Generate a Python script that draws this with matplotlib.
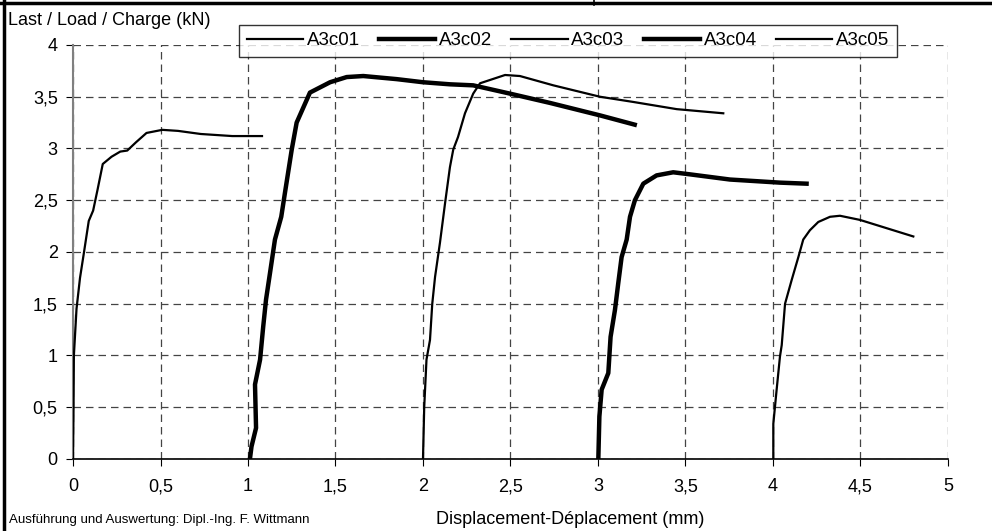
import matplotlib
matplotlib.use("Agg")
import matplotlib.pyplot as plt
from matplotlib.lines import Line2D

plt.rcParams['font.family'] = ['Liberation Sans', 'DejaVu Sans']

# load-displacement curves
x_a3c01 = [0.0, 0.003, 0.005, 0.02, 0.04, 0.063, 0.09, 0.115, 0.14, 0.17, 0.22,
           0.27, 0.31, 0.36, 0.42, 0.51, 0.6, 0.73, 0.91, 1.08]
y_a3c01 = [0.0, 0.5, 1.0, 1.45, 1.75, 2.0, 2.3, 2.4, 2.6, 2.85, 2.92,
           2.97, 2.98, 3.06, 3.15, 3.18, 3.17, 3.14, 3.12, 3.12]

x_a3c02 = [1.011, 1.02, 1.046, 1.04, 1.069, 1.087, 1.103, 1.126, 1.154, 1.19,
           1.211, 1.25, 1.278, 1.354, 1.469, 1.564, 1.659, 1.85, 2.0, 2.154,
           2.287, 2.497, 2.726, 3.011, 3.21]
y_a3c02 = [0.0, 0.12, 0.3, 0.72, 0.96, 1.28, 1.54, 1.8, 2.12, 2.34,
           2.57, 2.99, 3.25, 3.54, 3.64, 3.69, 3.7, 3.67, 3.64, 3.62,
           3.61, 3.53, 3.44, 3.32, 3.23]

x_a3c03 = [2.0, 2.007, 2.02, 2.04, 2.053, 2.069, 2.097, 2.126, 2.154, 2.173,
           2.2, 2.24, 2.287, 2.326, 2.469, 2.554, 2.745, 3.011, 3.2, 3.45, 3.716]
y_a3c03 = [0.0, 0.5, 0.96, 1.15, 1.5, 1.76, 2.09, 2.47, 2.82, 2.99,
           3.11, 3.34, 3.53, 3.63, 3.71, 3.7, 3.61, 3.5, 3.45, 3.38, 3.34]

x_a3c04 = [3.002, 3.008, 3.021, 3.059, 3.072, 3.097, 3.116, 3.135, 3.164, 3.183,
           3.211, 3.259, 3.335, 3.43, 3.526, 3.754, 4.04, 4.192]
y_a3c04 = [0.0, 0.41, 0.67, 0.83, 1.18, 1.44, 1.7, 1.95, 2.12, 2.34,
           2.5, 2.66, 2.74, 2.77, 2.75, 2.7, 2.67, 2.66]

x_a3c05 = [4.002, 4.002, 4.021, 4.04, 4.05, 4.069, 4.107, 4.145, 4.173, 4.211,
           4.259, 4.326, 4.383, 4.497, 4.802]
y_a3c05 = [0.0, 0.34, 0.67, 0.99, 1.1, 1.5, 1.73, 1.95, 2.12, 2.21,
           2.29, 2.34, 2.35, 2.31, 2.15]

labels = ['A3c01', 'A3c02', 'A3c03', 'A3c04', 'A3c05']
x_ticks = [0, 0.5, 1, 1.5, 2, 2.5, 3, 3.5, 4, 4.5, 5]
x_ticklabels = ['0', '0,5', '1', '1,5', '2', '2,5', '3', '3,5', '4', '4,5', '5']
y_ticks = [0, 0.5, 1, 1.5, 2, 2.5, 3, 3.5, 4]
y_ticklabels = ['0', '0,5', '1', '1,5', '2', '2,5', '3', '3,5', '4']

fig = plt.figure(figsize=(9.92, 5.31), dpi=100)
ax = fig.add_axes([0.0736, 0.1356, 0.882, 0.7797])

series = [(x_a3c01, y_a3c01, 1.6), (x_a3c02, y_a3c02, 3.2), (x_a3c03, y_a3c03, 1.6),
          (x_a3c04, y_a3c04, 3.2), (x_a3c05, y_a3c05, 1.6)]
handles = []
for (xs, ys, lw), name in zip(series, labels):
    h, = ax.plot(xs, ys, color='black', lw=lw, label=name, zorder=3)
    handles.append(h)

ax.set_xlim(0, 5)
ax.set_ylim(0, 4)
ax.set_xticks(x_ticks)
ax.set_xticklabels(x_ticklabels)
ax.set_yticks(y_ticks)
ax.set_yticklabels(y_ticklabels)
ax.tick_params(direction='out', length=5, labelsize=13, colors='black')
ax.tick_params(axis='x', pad=9)
ax.tick_params(axis='y', pad=6)
ax.grid(True, color='#444444', linestyle=(0, (6, 4)), lw=0.9)
ax.set_axisbelow(True)
for s in ['top', 'right']:
    ax.spines[s].set_visible(False)
ax.spines['left'].set_color('#808080')
ax.spines['left'].set_linewidth(1.5)
ax.spines['bottom'].set_linewidth(1.2)

fig.text(0.008, 0.962, 'Last / Load / Charge (kN)', fontsize=13, ha='left', va='center')
fig.text(0.575, 0.022, 'Displacement-Déplacement (mm)', fontsize=13, ha='center', va='center')
fig.text(0.009, 0.020, 'Ausführung und Auswertung: Dipl.-Ing. F. Wittmann',
         fontsize=9.5, ha='left', va='center')

leg = fig.legend(handles=handles, loc='lower left', ncol=5, mode='expand',
                 bbox_to_anchor=(0.241, 0.893, 0.663, 0.057), frameon=True,
                 fancybox=False, edgecolor='black', fontsize=13.5, handlelength=3.0,
                 handletextpad=0.2, borderpad=0.4, borderaxespad=0)
leg.get_frame().set_linewidth(1.0)

# frame fragments of the surrounding table
fig.add_artist(Line2D([0, 1], [0.994, 0.994], color='black', lw=2.5, transform=fig.transFigure))
fig.add_artist(Line2D([0.004, 0.004], [0, 1], color='black', lw=2.5, transform=fig.transFigure))
fig.add_artist(Line2D([0.599, 0.599], [0.99, 1], color='black', lw=1.2, transform=fig.transFigure))

fig.savefig('out.png', dpi=100)
